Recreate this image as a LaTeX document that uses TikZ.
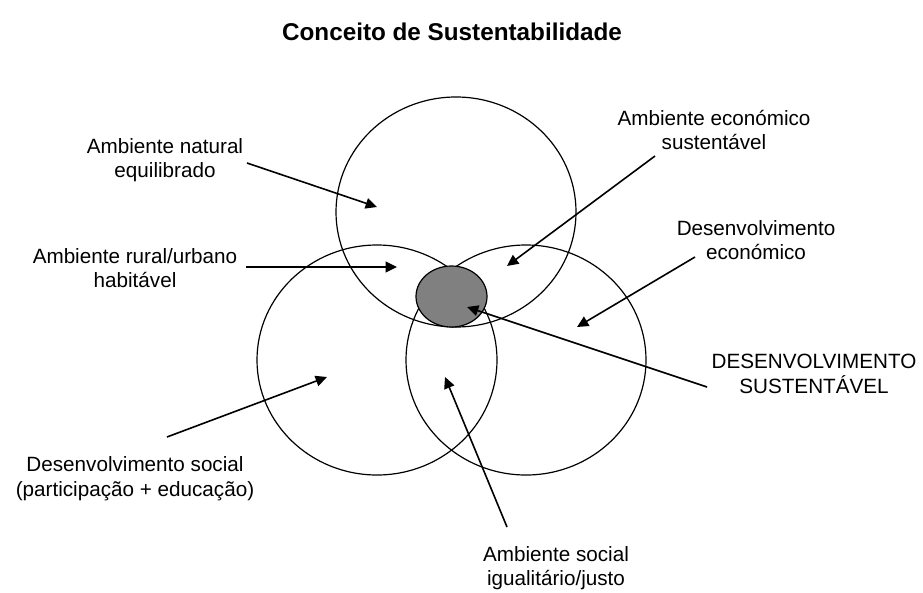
\documentclass[tikz,border=0pt]{standalone}
\usepackage{fontspec}
\setmainfont{Liberation Sans}
\usetikzlibrary{shapes.geometric, arrows.meta}

\tikzset{
    ring/.style={ellipse, draw, line width=0.9pt, minimum width=180pt, minimum height=172.5pt, inner sep=0pt},
    core/.style={ellipse, draw, line width=0.9pt, fill=black!50, minimum width=53.25pt, minimum height=45.75pt, inner sep=0pt},
    label/.style={align=center, inner sep=1pt, font=\fontsize{15.5}{18.5}\selectfont},
    pointer/.style={line width=1.2pt, -{Triangle[length=8.5pt, width=8pt]}}
}

\begin{document}
\begin{tikzpicture}[x=0.75pt, y=-0.75pt]
\useasboundingbox (0,0) rectangle (923,592);

% ===== Title =====
\node[font=\fontsize{18.2}{22}\selectfont\bfseries] (title) at (452,32) {Conceito de Sustentabilidade};

% ===== Three spheres and their overlap =====
\node[ring] (cnat) at (456,212) {};
\node[ring] (csoc) at (377,360) {};
\node[ring] (ceco) at (526,360) {};
\node[core] (ds) at (451.5,296.5) {};

% ===== Labels =====
\node[label] (lnat) at (165,160) {Ambiente natural\\equilibrado};
\node[label] (lrur) at (135,268) {Ambiente rural/urbano\\habitável};
\node[label] (lecs) at (714,130) {Ambiente económico\\sustentável};
\node[label] (leco) at (756,240) {Desenvolvimento\\económico};
\node[label] (lds)  at (814,374) {DESENVOLVIMENTO\\SUSTENTÁVEL};
\node[label] (lsoc) at (135,479) {Desenvolvimento social\\(participação + educação)};
\node[label] (lsig) at (556,568) {Ambiente social\\igualitário/justo};

% ===== Arrow ends =====
\coordinate (snat) at (247,163);  \coordinate (tnat) at (377,207);
\coordinate (srur) at (246,267);  \coordinate (trur) at (397,267);
\coordinate (secs) at (655,156);  \coordinate (tecs) at (507,266);
\coordinate (seco) at (695,257);  \coordinate (teco) at (577,327);
\coordinate (sds)  at (707,387);  \coordinate (tds)  at (467,307);
\coordinate (ssoc) at (167,437);  \coordinate (tsoc) at (327,377);
\coordinate (ssig) at (507,527);  \coordinate (tsig) at (445,377);

% ===== Arrows =====
\draw[pointer] (snat) -- (tnat);
\draw[pointer] (srur) -- (trur);
\draw[pointer] (secs) -- (tecs);
\draw[pointer] (seco) -- (teco);
\draw[pointer] (sds) -- (tds);
\draw[pointer] (ssoc) -- (tsoc);
\draw[pointer] (ssig) -- (tsig);

\end{tikzpicture}
\end{document}
